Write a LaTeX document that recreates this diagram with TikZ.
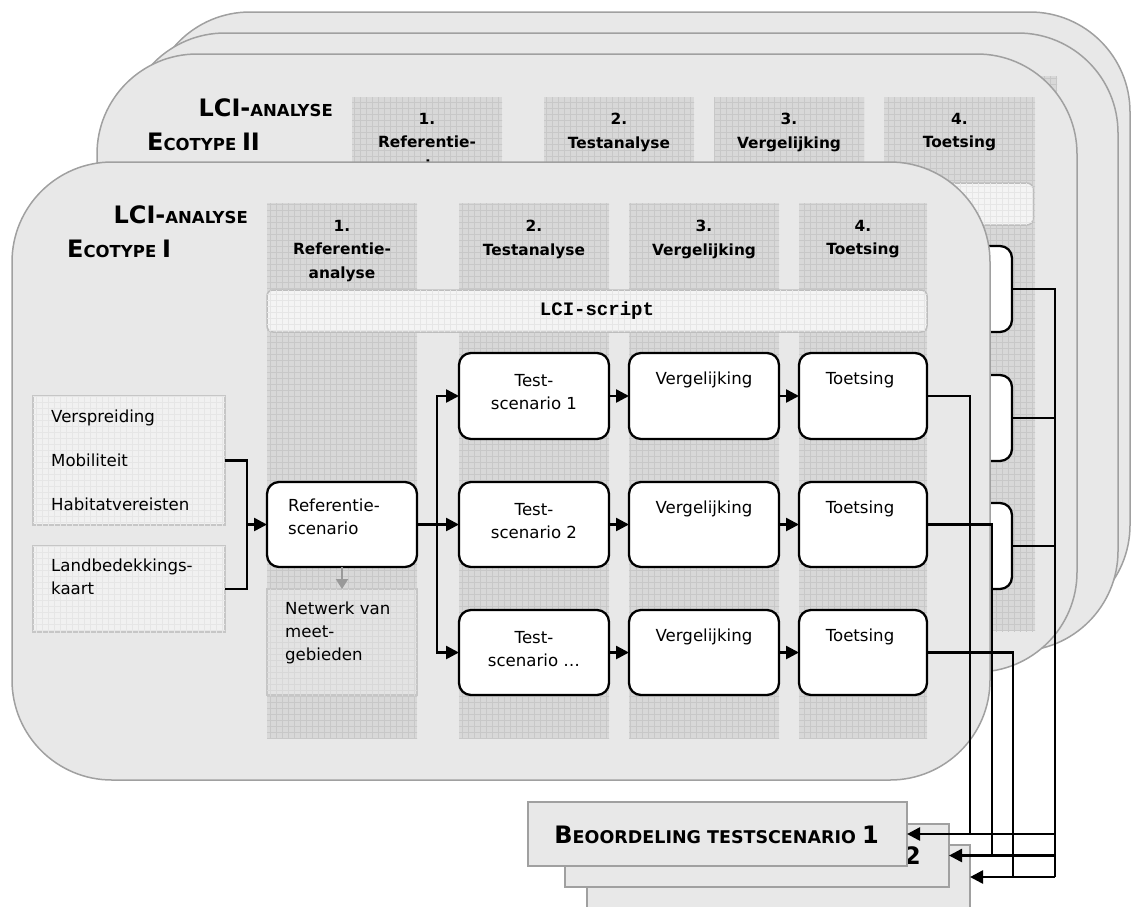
\documentclass[tikz,border=0pt]{standalone}
\usepackage{fontspec}
\setmainfont{DejaVu Sans}
\setmonofont{Liberation Mono}
\usetikzlibrary{arrows.meta,patterns}
\pgfdeclarepatternformonly{finegrid}{\pgfqpoint{-0.5pt}{-0.5pt}}{\pgfqpoint{6.5pt}{6.5pt}}{\pgfqpoint{6pt}{6pt}}{%
  \pgfsetlinewidth{0.5pt}%
  \pgfpathmoveto{\pgfqpoint{0pt}{0pt}}\pgfpathlineto{\pgfqpoint{6pt}{0pt}}%
  \pgfpathmoveto{\pgfqpoint{0pt}{0pt}}\pgfpathlineto{\pgfqpoint{0pt}{6pt}}%
  \pgfusepath{stroke}}
\definecolor{panelfill}{HTML}{E8E8E8}
\definecolor{panelline}{HTML}{A0A0A0}
\definecolor{colshade}{HTML}{D8D8D8}
\definecolor{colgrid}{HTML}{C8C8C8}
\definecolor{inboxfill}{HTML}{F1F1F1}
\definecolor{inboxline}{HTML}{C6C6C6}
\definecolor{netfill}{HTML}{E3E3E3}
\definecolor{barfill}{HTML}{F4F4F4}
\definecolor{barline}{HTML}{BDBDBD}
\definecolor{lightgrid}{HTML}{E6E6E6}
\definecolor{arrgray}{HTML}{999999}
\newcommand{\scsize}[2]{{\fontsize{#1}{28}\selectfont #2}}
\begin{document}
\begin{tikzpicture}[x=1pt,y=-1pt,
  panel/.style={draw=panelline, fill=panelfill, line width=1.5pt, rounded corners=100pt},
  colbg/.style={fill=colshade, postaction={pattern=finegrid, pattern color=colgrid}},
  stage/.style={draw=black, fill=white, line width=2.3pt, rounded corners=12pt, inner sep=0pt, outer sep=0pt, anchor=north west},
  inbox/.style={draw=inboxline, fill=inboxfill, line width=1.8pt, inner sep=0pt, outer sep=0pt, anchor=north west, postaction={pattern=finegrid, pattern color=lightgrid}},
  netbox/.style={draw=inboxline, fill=netfill, line width=1.8pt, inner sep=0pt, outer sep=0pt, anchor=north west, postaction={pattern=finegrid, pattern color=colshade}},
  scriptbar/.style={draw=barline, fill=barfill, line width=1.5pt, rounded corners=6pt, inner sep=0pt, outer sep=0pt, anchor=north west, postaction={pattern=finegrid, pattern color=lightgrid}},
  beo/.style={draw=panelline, fill=panelfill, line width=1.8pt, inner sep=0pt, outer sep=0pt, anchor=north west},
  conn/.style={draw=black, line width=2.5pt},
  arr/.style={conn, -{Triangle[length=13pt,width=13pt]}},
  hdr/.style={font=\fontsize{15.4}{23.5}\selectfont\bfseries, align=center, inner sep=0pt, anchor=north},
  body/.style={font=\fontsize{16.6}{23}\selectfont, inner sep=0pt},
  bigcap/.style={font=\bfseries, inner sep=0pt},
]
\useasboundingbox (0,0) rectangle (1131,906);

% ---------- back panels ----------
\draw[panel] (150,12) rectangle (1130,625);
\draw[panel] (125,33) rectangle (1118,651);
\fill[colbg] (905,76) rectangle (1057,300);
\draw[panel] (97,54) rectangle (1077,672);

% ---------- panel C (Ecotype II) ----------
\foreach \a/\b in {352/502,544/694,714/864,884/1035}
  \fill[colbg] (\a,97) rectangle (\b,631);
\node[scriptbar, minimum width=681pt, minimum height=42pt] (cbar) at (352,183) {};
\node[bigcap, anchor=base east] (ctitle) at (333,116) {\scsize{24}{LCI-}\scsize{16.5}{ANALYSE}};
\node[bigcap, anchor=base west] (ceco) at (147,150) {\scsize{24}{E}\scsize{16.5}{COTYPE }\scsize{24}{II}};
\node[hdr] (ch1) at (427,113) {1.\\Referentie-\\analyse};
\node[hdr] (ch2) at (619,113) {2.\\Testanalyse};
\node[hdr] (ch3) at (789,113) {3.\\Vergelijking};
\node[hdr] (ch4) at (959.5,113) {4.\\Toetsing};
\node[stage, minimum width=128pt, minimum height=86pt] (ct1) at (884,246) {};
\node[stage, minimum width=128pt, minimum height=86pt] (ct2) at (884,375) {};
\node[stage, minimum width=128pt, minimum height=86pt] (ct3) at (884,503) {};
\coordinate (cbus) at (1055,877);
\coordinate (cb1) at (1055,834);
\coordinate (cb2) at (1055,855.5);
\draw[conn] (ct1.east) -| (cbus);
\draw[conn] (ct2.east) -| (cbus);
\draw[conn] (ct3.east) -| (cbus);

% ---------- front panel (Ecotype I) ----------
\draw[panel] (12,162) rectangle (990,780);
\foreach \a/\b in {267/417,459/609,629/779,799/927}
  \fill[colbg] (\a,203) rectangle (\b,738);
\node[bigcap, anchor=base east] (ftitle) at (248,223) {\scsize{24}{LCI-}\scsize{16.5}{ANALYSE}};
\node[bigcap, anchor=base west] (feco) at (67,257) {\scsize{24}{E}\scsize{16.5}{COTYPE }\scsize{24}{I}};
\node[hdr] (fh1) at (342,220) {1.\\Referentie-\\analyse};
\node[hdr] (fh2) at (534,220) {2.\\Testanalyse};
\node[hdr] (fh3) at (704,220) {3.\\Vergelijking};
\node[hdr] (fh4) at (863,220) {4.\\Toetsing};
\node[scriptbar, minimum width=660pt, minimum height=42pt, font=\fontsize{19}{20}\selectfont\ttfamily\bfseries] (bar) at (267,290) {LCI-script};

% inputs
\node[inbox, minimum width=192pt, minimum height=129pt] (in1) at (33,396) {};
\node[body, align=left, anchor=north west, font=\fontsize{16.6}{44}\selectfont] (in1t) at (51,410) {Verspreiding\\Mobiliteit\\Habitatvereisten};
\node[inbox, minimum width=192pt, minimum height=86pt] (in2) at (33,546) {};
\node[body, align=left, anchor=north west] (in2t) at (51,559) {Landbedekkings-\\kaart};

% reference
\node[stage, minimum width=150pt, minimum height=85pt] (ref) at (267,482) {};
\node[body, align=left, anchor=north west] (reft) at (288,499) {Referentie-\\scenario};
\node[netbox, minimum width=150pt, minimum height=106pt] (net) at (267,589) {};
\node[body, align=left, anchor=north west] (nett) at (285,602) {Netwerk van\\meet-\\gebieden};

% rows
\node[stage, minimum width=150pt, minimum height=86pt] (ts1) at (459,353) {};
\node[stage, minimum width=150pt, minimum height=86pt] (vg1) at (629,353) {};
\node[stage, minimum width=128pt, minimum height=86pt] (tt1) at (799,353) {};
\node[stage, minimum width=150pt, minimum height=85pt] (ts2) at (459,482) {};
\node[stage, minimum width=150pt, minimum height=85pt] (vg2) at (629,482) {};
\node[stage, minimum width=128pt, minimum height=85pt] (tt2) at (799,482) {};
\node[stage, minimum width=150pt, minimum height=85pt] (ts3) at (459,610) {};
\node[stage, minimum width=150pt, minimum height=85pt] (vg3) at (629,610) {};
\node[stage, minimum width=128pt, minimum height=85pt] (tt3) at (799,610) {};

\node[body, align=center, anchor=north] (ts1t) at (534,374) {Test-\\scenario 1};
\node[body, align=center, anchor=north] (ts2t) at (534,503) {Test-\\scenario 2};
\node[body, align=center, anchor=north] (ts3t) at (534,631) {Test-\\scenario …};
\node[body, anchor=north] (vg1t) at (704,372) {Vergelijking};
\node[body, anchor=north] (vg2t) at (704,501) {Vergelijking};
\node[body, anchor=north] (vg3t) at (704,629) {Vergelijking};
\node[body, anchor=north] (tt1t) at (860,372) {Toetsing};
\node[body, anchor=north] (tt2t) at (860,501) {Toetsing};
\node[body, anchor=north] (tt3t) at (860,629) {Toetsing};

% connectors front
\coordinate (jin) at (247,524.5);
\draw[conn] (in1.east) -| (jin);
\draw[conn] (in2.east) -| (jin);
\draw[arr] (jin) -- (ref.west);
\draw[draw=arrgray, line width=2pt, -{Triangle[length=10pt,width=12pt]}] (ref.south) -- (net.north);
\coordinate (jref) at (437,524.5);
\draw[arr] (ref.east) -- (ts2.west);
\draw[arr] (jref) |- (ts1.west);
\draw[arr] (jref) |- (ts3.west);
\draw[arr] (ts1.east) -- (vg1.west);
\draw[arr] (ts2.east) -- (vg2.west);
\draw[arr] (ts3.east) -- (vg3.west);
\draw[arr] (vg1.east) -- (tt1.west);
\draw[arr] (vg2.east) -- (tt2.west);
\draw[arr] (vg3.east) -- (tt3.west);
\coordinate (fb1) at (970,834);
\coordinate (fb2) at (992,855.5);
\coordinate (fb3) at (1013,877);
\draw[conn] (tt1.east) -| (fb1);
\draw[conn] (tt2.east) -| (fb2);
\draw[conn] (tt3.east) -| (fb3);

% ---------- Beoordeling boxes ----------
\node[beo, minimum width=383pt, minimum height=64pt] (beo3) at (587,845) {};
\node[beo, minimum width=384pt, minimum height=63pt] (beo2) at (565,824) {};
\node[bigcap, anchor=base east] (beo2t) at (921,864) {\scsize{24}{B}\scsize{17.5}{EOORDELING TESTSCENARIO }\scsize{24}{2}};
\node[beo, minimum width=379pt, minimum height=64pt] (beo1) at (528,802) {};
\node[bigcap, anchor=base east] (beo1t) at (879,843) {\scsize{24}{B}\scsize{17.5}{EOORDELING TESTSCENARIO }\scsize{24}{1}};

\draw[arr] (cb1) -- (beo1.east);
\draw[arr] (cb2) -- (beo2.east);
\draw[arr] (cbus) -- (beo3.east);
\end{tikzpicture}
\end{document}
